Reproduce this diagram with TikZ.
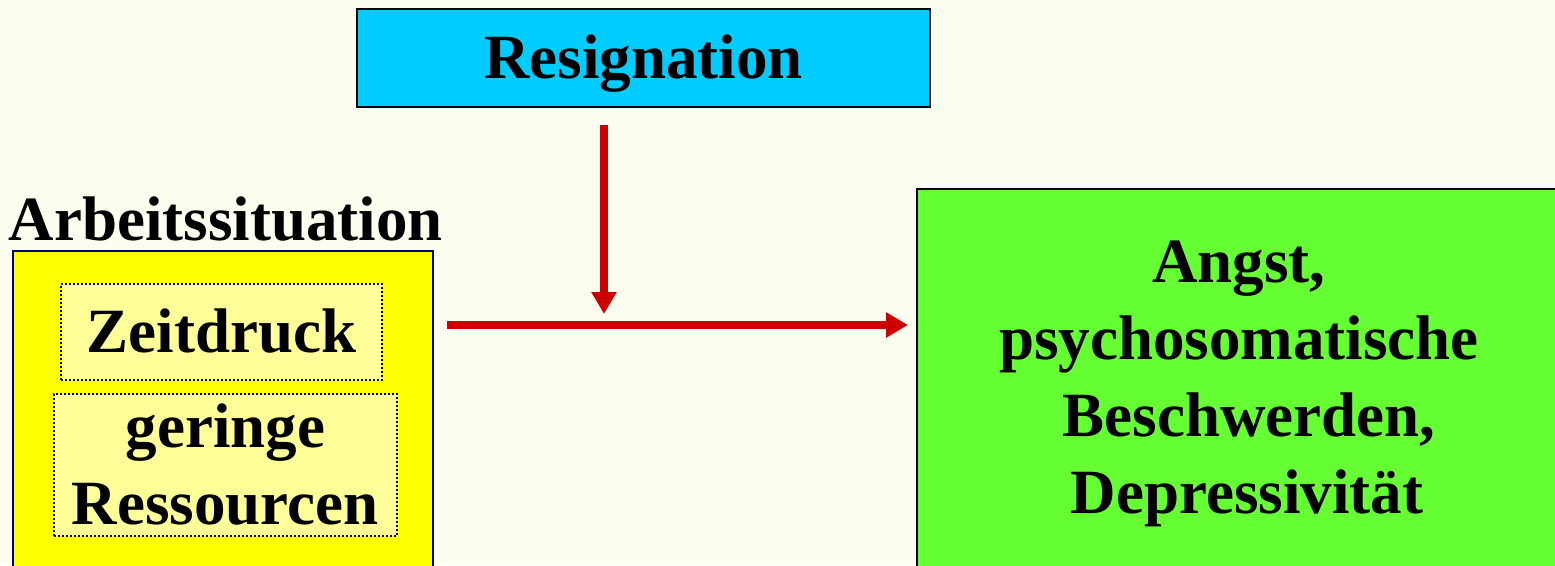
\documentclass[tikz,border=0pt]{standalone}
\usepackage{fontspec}
\setmainfont{Liberation Serif}
\usetikzlibrary{arrows.meta}
\definecolor{bgc}{RGB}{252,255,240}
\definecolor{cyanbox}{RGB}{0,204,255}
\definecolor{ybox}{RGB}{255,255,0}
\definecolor{lybox}{RGB}{255,255,153}
\definecolor{gbox}{RGB}{102,255,51}
\definecolor{navy}{RGB}{0,0,128}
\definecolor{darr}{RGB}{204,0,0}
\tikzset{
  txt/.style={font=\fontsize{63}{77}\selectfont\bfseries, text=black},
  boxstyle/.style={draw=black, line width=2pt, inner sep=0pt, txt},
  dotbox/.style={draw=black, line width=1.8pt, dash pattern=on 1.8pt off 2.2pt, fill=lybox, inner sep=0pt, txt, align=center},
  arr/.style={draw=darr, line width=8pt, -{Triangle[width=24pt,length=22pt]}}
}
\begin{document}
\begin{tikzpicture}[x=1pt,y=-1pt]
\fill[bgc] (0,0) rectangle (1555,565);
\useasboundingbox (0,0) rectangle (1555,565);
% top box
\node[boxstyle, fill=cyanbox, minimum width=573pt, text height=69pt, text depth=29pt, anchor=north west] (res) at (356,8) {Resignation};
% yellow box
\node[draw=navy, line width=2pt, fill=ybox, minimum width=420pt, minimum height=340pt, anchor=north west, inner sep=0pt] (arb) at (12,250) {};
\node[txt, anchor=base] (arblab) at (226,240) {Arbeitssituation};
\node[dotbox, minimum width=321pt, text height=69pt, text depth=27pt, anchor=north west] (zeit) at (60,283) {Zeitdruck};
\node[dotbox, minimum width=343pt, minimum height=142pt, anchor=north west] (ress) at (53,393) {geringe\\Ressourcen};
% green box
\node[boxstyle, fill=gbox, minimum width=644pt, minimum height=389pt, anchor=north west, align=center] (out) at (916,188) {Angst,\hspace{16pt}\\psychosomatische\\\hspace{20pt}Beschwerden,\\\hspace{16pt}Depressivität};
% arrows
\coordinate (hs) at (445,325);
\coordinate (vm) at (604,314);
\draw[arr, shorten <=13pt, shorten >=8pt] (arb.east |- hs) -- (out.west |- hs);
\draw[arr, shorten <=17pt] (res.south -| vm) -- (vm);
\end{tikzpicture}
\end{document}
